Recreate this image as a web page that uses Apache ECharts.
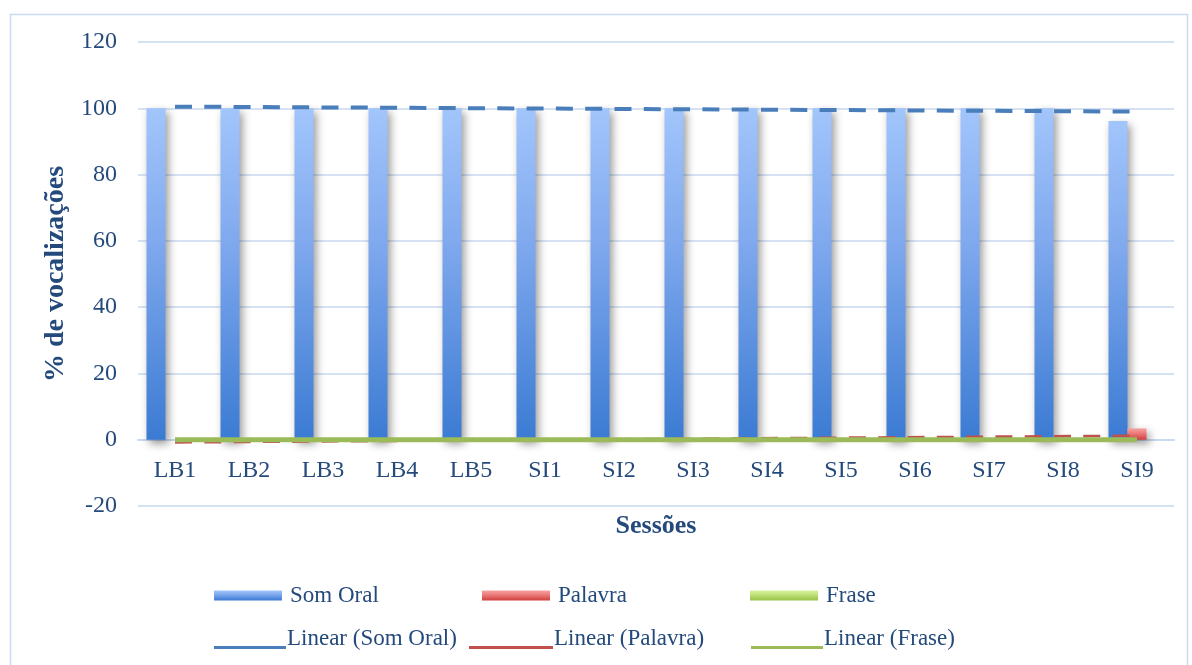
<!DOCTYPE html>
<html>
<head>
<meta charset="utf-8">
<script src="https://cdn.jsdelivr.net/npm/echarts@6/dist/echarts.min.js"></script>
<style>
html,body{margin:0;padding:0;background:#fff;}
#c{width:1192px;height:665px;}
</style>
</head>
<body>
<div id="c"></div>
<script>
// ---- data ----
var categories = ['LB1','LB2','LB3','LB4','LB5','SI1','SI2','SI3','SI4','SI5','SI6','SI7','SI8','SI9'];
var somOral = [100,100,100,100,100,100,100,100,100,100,100,100,100,96.2];
var palavra = [0,0,0,0,0,0,0,0,0,0,0,0,0,3.4];
var frase   = [0,0,0,0,0,0,0,0,0,0,0,0,0,0];
// linear trend endpoints (first / last category)
var trendSomOral = [100.5, 99.0];
var trendPalavra = [-0.8, 1.2];
var trendFrase   = [0, 0];
var yTicks = [-20, 0, 20, 40, 60, 80, 100, 120];

var TXT = '#244a7c';
var FONT = 'Liberation Serif';
var GRID_TOP = 42, GRID_BOTTOM = 159, H = 665;
var yMin = yTicks[0], yMax = yTicks[yTicks.length - 1];
// pixel distance from the grid bottom (yMin) up to the value 0
var zeroOffset = (H - GRID_TOP - GRID_BOTTOM) * (0 - yMin) / (yMax - yMin);

function grad(a, m, b) {
  return new echarts.graphic.LinearGradient(0, 0, 0, 1, [
    {offset: 0, color: a}, {offset: 0.4, color: m}, {offset: 1, color: b}
  ]);
}
var last = categories.length - 1;
function trendData(ends) {
  return [[categories[0], ends[0]], [categories[last], ends[1]]];
}
var shadow = {shadowColor: 'rgba(0,0,0,0.4)', shadowBlur: 8, shadowOffsetX: 3, shadowOffsetY: 4};
var lineIcon = 'path://M0,0L0.01,0L0,0.01Z M0,18L72,18L72,21L0,21Z';
var lineIconP = 'path://M0,0L0.01,0L0,0.01Z M0,18L84,18L84,21L0,21Z';

function leg(name, left, top, opts) {
  var o = {
    data: [name], left: left, top: top, padding: 0, selectedMode: false,
    itemWidth: 68, itemHeight: 10, icon: 'rect',
    textStyle: {fontFamily: FONT, fontSize: 23, color: TXT, padding: [0,0,0,3]}
  };
  for (var k in opts) o[k] = opts[k];
  return o;
}
var lineText = {fontFamily: FONT, fontSize: 23, color: TXT, padding: [0,0,0,-4]};

var chart = echarts.init(document.getElementById('c'), null, {renderer: 'canvas'});
chart.setOption({
  animation: false,
  backgroundColor: '#fff',
  grid: {left: 138, right: 18, top: GRID_TOP, bottom: GRID_BOTTOM, containLabel: false},
  graphic: [{
    type: 'rect', left: 8, top: 12, silent: true,
    shape: {width: 1177, height: 700},
    style: {fill: 'none', stroke: '#c9daf0', lineWidth: 1.5}
  }],
  legend: [
    leg('Som Oral', 214, 584),
    leg('Palavra', 482, 584),
    leg('Frase', 750, 584),
    leg('Linear (Som Oral)', 214, 627, {icon: lineIcon, itemWidth: 72, itemHeight: 21, textStyle: lineText}),
    leg('Linear (Palavra)', 469, 627, {icon: lineIconP, itemWidth: 84, itemHeight: 21, textStyle: lineText}),
    leg('Linear (Frase)', 751, 627, {icon: lineIcon, itemWidth: 72, itemHeight: 21, textStyle: lineText})
  ],
  xAxis: {
    type: 'category', data: categories, position: 'bottom', offset: -zeroOffset,
    axisLine: {onZero: false, lineStyle: {color: '#c9daf0', width: 2}},
    axisTick: {show: false},
    axisLabel: {fontFamily: FONT, fontSize: 24, color: TXT, margin: 19},
    name: 'Sessões', nameLocation: 'middle', nameGap: 74,
    nameTextStyle: {fontFamily: FONT, fontSize: 26, fontWeight: 'bold', color: TXT}
  },
  yAxis: {
    type: 'value', min: yMin, max: yMax, interval: 20,
    axisLine: {show: false}, axisTick: {show: false},
    splitLine: {lineStyle: {color: '#d6e2f3', width: 2}},
    axisLabel: {fontFamily: FONT, fontSize: 24, color: TXT, margin: 21},
    name: '% de vocalizações', nameLocation: 'middle', nameGap: 64, nameRotate: 90,
    nameTextStyle: {fontFamily: FONT, fontSize: 28, fontWeight: 'bold', color: TXT, padding: [0, 0, 0, 0]}
  },
  series: [
    {name: 'Som Oral', type: 'bar', data: somOral, barWidth: 19, barGap: '0%',
     itemStyle: Object.assign({color: grad('#a2c5fb', '#80a9ee', '#3b7bd3')}, shadow)},
    {name: 'Palavra', type: 'bar', data: palavra, barWidth: 19, barGap: '0%',
     itemStyle: Object.assign({color: grad('#f5a3a2', '#ec7e7d', '#cf3f3d')}, shadow)},
    {name: 'Frase', type: 'bar', data: frase, barWidth: 19, barGap: '0%',
     itemStyle: Object.assign({color: grad('#d8f39e', '#c2e27a', '#98c14a')}, shadow)},
    {name: 'Linear (Som Oral)', type: 'line', data: trendData(trendSomOral), showSymbol: false, symbol: 'none',
     itemStyle: {color: '#4a7ebb'}, lineStyle: {color: '#4a7ebb', width: 4, type: [17, 12.3]}, z: 5},
    {name: 'Linear (Palavra)', type: 'line', data: trendData(trendPalavra), showSymbol: false, symbol: 'none',
     itemStyle: {color: '#c0504d'}, lineStyle: {color: '#c0504d', width: 2.7, type: [17, 12.3]}, z: 5},
    {name: 'Linear (Frase)', type: 'line', data: trendData(trendFrase), showSymbol: false, symbol: 'none',
     itemStyle: {color: '#9bbb59'}, lineStyle: {color: '#9bbb59', width: 5}, z: 6}
  ]
});
</script>
</body>
</html>
